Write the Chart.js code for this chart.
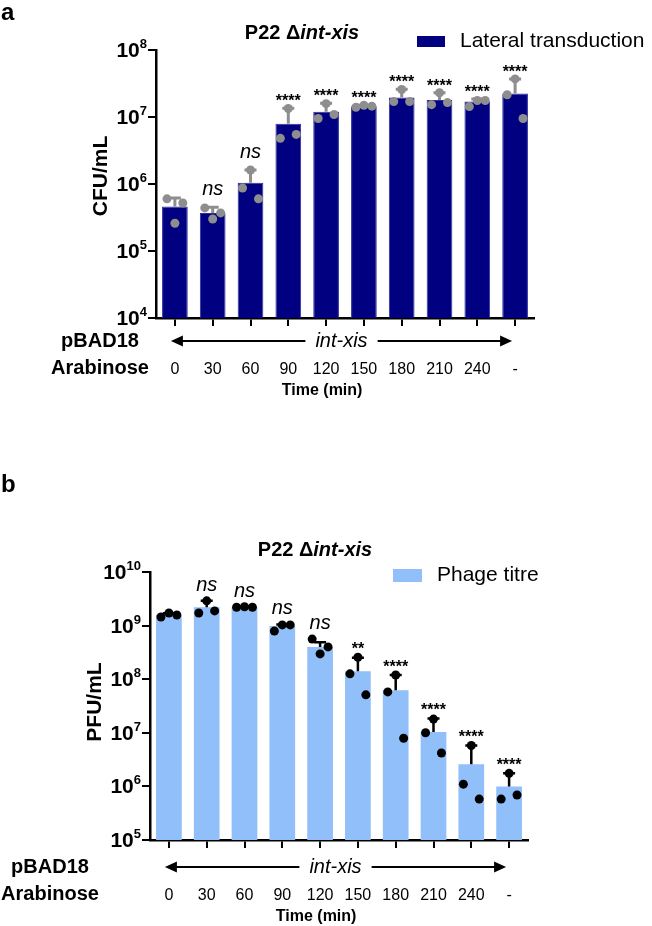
<!DOCTYPE html>
<html>
<head>
<meta charset="utf-8">
<script src="https://cdn.jsdelivr.net/npm/chart.js@4.4.1/dist/chart.umd.min.js"></script>
<style>
  html, body { margin: 0; padding: 0; background: #fff; }
  #wrap { position: relative; width: 652px; height: 926px; }
  canvas { position: absolute; left: 0; }
</style>
</head>
<body>
<div id="wrap">
  <canvas id="graficaA" width="652" height="470" style="top:0px"></canvas>
  <canvas id="graficaB" width="652" height="456" style="top:470px"></canvas>
</div>
<script>
// Categorías (tiempo en min)
const tiempos = ['0', '30', '60', '90', '120', '150', '180', '210', '240', '-'];

// Panel a: transducción lateral (CFU/mL)
const ltMedia = [4.6e5, 3.7e5, 1.04e6, 7.9e6, 1.2e7, 1.45e7, 1.95e7, 1.8e7, 1.7e7, 2.25e7];
const ltErrorSup = [6.2e5, 4.5e5, 1.62e6, 1.35e7, 1.6e7, 1.5e7, 2.6e7, 2.3e7, 1.85e7, 3.7e7];
const ltRep1 = [6.0e5, 4.4e5, 8.7e5, 4.8e6, 9.5e6, 1.4e7, 1.7e7, 1.53e7, 1.43e7, 2.15e7];
const ltRep2 = [2.6e5, 3.0e5, 1.62e6, 1.34e7, 1.58e7, 1.5e7, 2.57e7, 2.3e7, 1.76e7, 3.7e7];
const ltRep3 = [5.2e5, 3.7e5, 6.0e5, 5.5e6, 1.09e7, 1.45e7, 1.7e7, 1.64e7, 1.76e7, 9.5e6];
const ltSig = ['', 'ns', 'ns', '****', '****', '****', '****', '****', '****', '****'];
const ticksA = [1e4, 1e5, 1e6, 1e7, 1e8];

// Panel b: título de fago (PFU/mL)
const ptMedia = [1.6e9, 2.2e9, 2.2e9, 9.8e8, 4.0e8, 1.4e8, 6.2e7, 1.03e7, 2.6e6, 1.0e6];
const ptErrorSup = [1.7e9, 2.9e9, 2.25e9, 1.05e9, 4.9e8, 2.5e8, 1.2e8, 1.85e7, 5.8e6, 1.75e6];
const ptRep1 = [1.45e9, 1.72e9, 2.2e9, 7.9e8, 5.6e8, 1.26e8, 5.8e7, 1.0e7, 1.1e6, 5.8e5];
const ptRep2 = [1.72e9, 2.9e9, 2.25e9, 1.03e9, 2.96e8, 2.57e8, 1.2e8, 1.8e7, 5.8e6, 1.75e6];
const ptRep3 = [1.58e9, 1.88e9, 2.2e9, 1.03e9, 4.0e8, 5.1e7, 7.9e6, 4.2e6, 5.8e5, 6.9e5];
const ptSig = ['', 'ns', 'ns', 'ns', 'ns', '**', '****', '****', '****', '****'];
const ticksB = [1e5, 1e6, 1e7, 1e8, 1e9, 1e10];

const FUENTE = '"Liberation Sans", Arial, sans-serif';
Chart.defaults.font.family = FUENTE;
Chart.defaults.color = '#000';

// Plugin para barras de error, etiquetas y textos extra
function dibujoExtra(cfg) {
  return {
    id: 'extra',
    afterDatasetDraw(chart, args) {
      if (args.meta.type !== 'bar') return;
      const ctx = chart.ctx, x = chart.scales.x, y = chart.scales.y;
      ctx.save();
      ctx.strokeStyle = cfg.colorError;
      ctx.lineWidth = cfg.anchoError;
      cfg.media.forEach((m, i) => {
        const px = x.getPixelForValue(i);
        const y0 = y.getPixelForValue(m);
        const y1 = y.getPixelForValue(cfg.errorSup[i]);
        ctx.beginPath();
        ctx.moveTo(px, y0);
        ctx.lineTo(px, y1);
        ctx.moveTo(px - 6, y1);
        ctx.lineTo(px + 6, y1);
        ctx.stroke();
      });
      ctx.restore();
    },
    afterDraw(chart) {
      const ctx = chart.ctx, x = chart.scales.x, y = chart.scales.y, area = chart.chartArea;
      ctx.save();
      ctx.fillStyle = '#000';
      ctx.textBaseline = 'alphabetic';

      // letra del panel
      ctx.font = 'bold 24px ' + FUENTE;
      ctx.textAlign = 'left';
      ctx.fillText(cfg.letra, 1, cfg.letraY);

      // título con parte en cursiva
      ctx.textBaseline = 'middle';
      ctx.font = 'bold 20px ' + FUENTE;
      const t1 = 'P22 \u0394';
      const w1 = ctx.measureText(t1).width;
      ctx.font = 'bold italic 20px ' + FUENTE;
      const w2 = ctx.measureText('int-xis').width;
      let tx = cfg.tituloX - (w1 + w2) / 2;
      ctx.font = 'bold 20px ' + FUENTE;
      ctx.fillText(t1, tx, cfg.tituloY);
      ctx.font = 'bold italic 20px ' + FUENTE;
      ctx.fillText('int-xis', tx + w1, cfg.tituloY);

      // leyenda
      ctx.fillStyle = cfg.colorBarra;
      ctx.fillRect(cfg.leyenda.x, cfg.leyenda.y, cfg.leyenda.w, cfg.leyenda.h);
      ctx.fillStyle = '#000';
      ctx.font = '21px ' + FUENTE;
      ctx.fillText(cfg.nombre, cfg.leyenda.x + cfg.leyenda.w + 15, cfg.leyenda.y + cfg.leyenda.h / 2);

      // etiquetas del eje y: 10 con exponente
      ctx.textAlign = 'right';
      ctx.textBaseline = 'alphabetic';
      cfg.ticks.forEach(v => {
        const py = y.getPixelForValue(v);
        const exp = String(Math.round(Math.log10(v)));
        ctx.font = 'bold 13px ' + FUENTE;
        ctx.fillText(exp, area.left - 9, py - 2);
        const w = ctx.measureText(exp).width;
        ctx.font = 'bold 21px ' + FUENTE;
        ctx.fillText('10', area.left - 9 - w, py + 7);
      });

      // título del eje y
      ctx.save();
      ctx.translate(cfg.ejeY.x, cfg.ejeY.y);
      ctx.rotate(-Math.PI / 2);
      ctx.textAlign = 'center';
      ctx.textBaseline = 'middle';
      ctx.font = 'bold 21px ' + FUENTE;
      ctx.fillText(cfg.tituloEje, 0, 0);
      ctx.restore();

      // significancia
      ctx.textAlign = 'center';
      cfg.sig.forEach((s, i) => {
        if (!s) return;
        const tope = Math.max(cfg.errorSup[i], cfg.rep1[i], cfg.rep2[i], cfg.rep3[i]);
        const py = y.getPixelForValue(tope);
        const px = x.getPixelForValue(i);
        if (s === 'ns') {
          ctx.font = 'italic 20px ' + FUENTE;
          ctx.fillText(s, px, py - cfg.gapNs);
        } else {
          ctx.font = 'bold 16px ' + FUENTE;
          ctx.fillText(s, px, py - cfg.gapStar);
        }
      });

      // filas pBAD18 / Arabinose
      ctx.textBaseline = 'middle';
      ctx.font = 'bold 20px ' + FUENTE;
      ctx.fillText('pBAD18', cfg.filaX, cfg.filaY1);
      ctx.fillText('Arabinose', cfg.filaX, cfg.filaY2);

      // flecha con int-xis
      const xa = x.getPixelForValue(0) - 4;
      const xb = x.getPixelForValue(9) - 3;
      const xm = (xa + xb) / 2;
      ctx.font = 'italic 20px ' + FUENTE;
      const wt = ctx.measureText('int-xis').width;
      ctx.fillText('int-xis', xm, cfg.filaY1);
      ctx.strokeStyle = '#000';
      ctx.lineWidth = 2;
      ctx.beginPath();
      ctx.moveTo(xa + 8, cfg.filaY1);
      ctx.lineTo(xm - wt / 2 - 10, cfg.filaY1);
      ctx.moveTo(xm + wt / 2 + 10, cfg.filaY1);
      ctx.lineTo(xb - 8, cfg.filaY1);
      ctx.stroke();
      ctx.beginPath();
      ctx.moveTo(xa, cfg.filaY1);
      ctx.lineTo(xa + 12, cfg.filaY1 - 5.5);
      ctx.lineTo(xa + 12, cfg.filaY1 + 5.5);
      ctx.closePath();
      ctx.moveTo(xb, cfg.filaY1);
      ctx.lineTo(xb - 12, cfg.filaY1 - 5.5);
      ctx.lineTo(xb - 12, cfg.filaY1 + 5.5);
      ctx.closePath();
      ctx.fill();

      // Time (min)
      ctx.font = 'bold 16px ' + FUENTE;
      const xt = (x.getPixelForValue(0) + x.getPixelForValue(8)) / 2 - 4;
      ctx.fillText('Time (min)', xt, cfg.tiempoY);
      ctx.restore();
    }
  };
}

function crearGrafica(id, cfg) {
  const puntos = (arr, d) => arr.map((v, i) => ({ x: i + d, y: v }));
  const serie = (arr, d) => ({
    type: 'scatter', data: puntos(arr, d), xAxisID: 'xs', yAxisID: 'y', order: 1,
    pointRadius: 4.5, pointBackgroundColor: cfg.colorPunto, pointBorderWidth: 0
  });
  return new Chart(document.getElementById(id), {
    type: 'bar',
    data: {
      labels: tiempos,
      datasets: [
        { type: 'bar', label: cfg.nombre, data: cfg.media, backgroundColor: cfg.colorBarra,
          borderColor: cfg.bordeBarra, borderWidth: cfg.bordeAncho, barPercentage: 0.68,
          categoryPercentage: 1, grouped: false, order: 3, xAxisID: 'x', yAxisID: 'y' },
        serie(cfg.rep1, -0.21),
        serie(cfg.rep2, 0),
        serie(cfg.rep3, 0.21)
      ]
    },
    options: {
      responsive: false,
      animation: false,
      devicePixelRatio: 1,
      layout: { padding: cfg.padding },
      plugins: { legend: { display: false }, tooltip: { enabled: false } },
      scales: {
        x: {
          type: 'category', offset: true,
          grid: { offset: false, drawOnChartArea: false, color: '#000', lineWidth: 2, tickLength: 8 },
          border: { color: '#000', width: 2.5 },
          ticks: { color: '#000', font: { size: 16 }, padding: cfg.tickPad, maxRotation: 0, autoSkip: false },
          afterFit: s => { s.height = 60; }
        },
        xs: { type: 'linear', min: -0.5, max: 9.5, offset: false, display: false },
        y: {
          type: 'logarithmic', min: cfg.ticks[0], max: cfg.ticks[cfg.ticks.length - 1],
          afterBuildTicks: s => { s.ticks = cfg.ticks.map(v => ({ value: v })); },
          ticks: { display: false },
          grid: { drawOnChartArea: false, color: '#000', lineWidth: 2, tickLength: 8 },
          border: { color: '#000', width: 2.5 },
          afterFit: s => { s.width = 10; }
        }
      }
    },
    plugins: [dibujoExtra(cfg)]
  });
}

crearGrafica('graficaA', {
  letra: 'a', letraY: 20, nombre: 'Lateral transduction', tituloEje: 'CFU/mL',
  media: ltMedia, errorSup: ltErrorSup, rep1: ltRep1, rep2: ltRep2, rep3: ltRep3, sig: ltSig, ticks: ticksA,
  colorBarra: '#000080', bordeBarra: '#2c2ca0', bordeAncho: 1, colorPunto: '#8e8e8e',
  colorError: '#8e8e8e', anchoError: 3,
  padding: { left: 146, right: 118, top: 50, bottom: 92 }, tickPad: 34,
  tituloX: 302, tituloY: 33, leyenda: { x: 417, y: 36, w: 28, h: 11 },
  ejeY: { x: 101, y: 176 }, filaX: 100, filaY1: 341, filaY2: 368, tiempoY: 391,
  gapNs: 12, gapStar: 2
});

crearGrafica('graficaB', {
  letra: 'b', letraY: 22, nombre: 'Phage titre', tituloEje: 'PFU/mL',
  media: ptMedia, errorSup: ptErrorSup, rep1: ptRep1, rep2: ptRep2, rep3: ptRep3, sig: ptSig, ticks: ticksB,
  colorBarra: '#90bff9', bordeBarra: '#90bff9', bordeAncho: 0, colorPunto: '#000',
  colorError: '#000', anchoError: 2.5,
  padding: { left: 140, right: 124, top: 102, bottom: 26 }, tickPad: 38,
  tituloX: 315, tituloY: 80, leyenda: { x: 393, y: 99, w: 29, h: 13 },
  ejeY: { x: 95, y: 232 }, filaX: 50, filaY1: 397, filaY2: 424, tiempoY: 447,
  gapNs: 10, gapStar: 3
});
</script>
</body>
</html>
